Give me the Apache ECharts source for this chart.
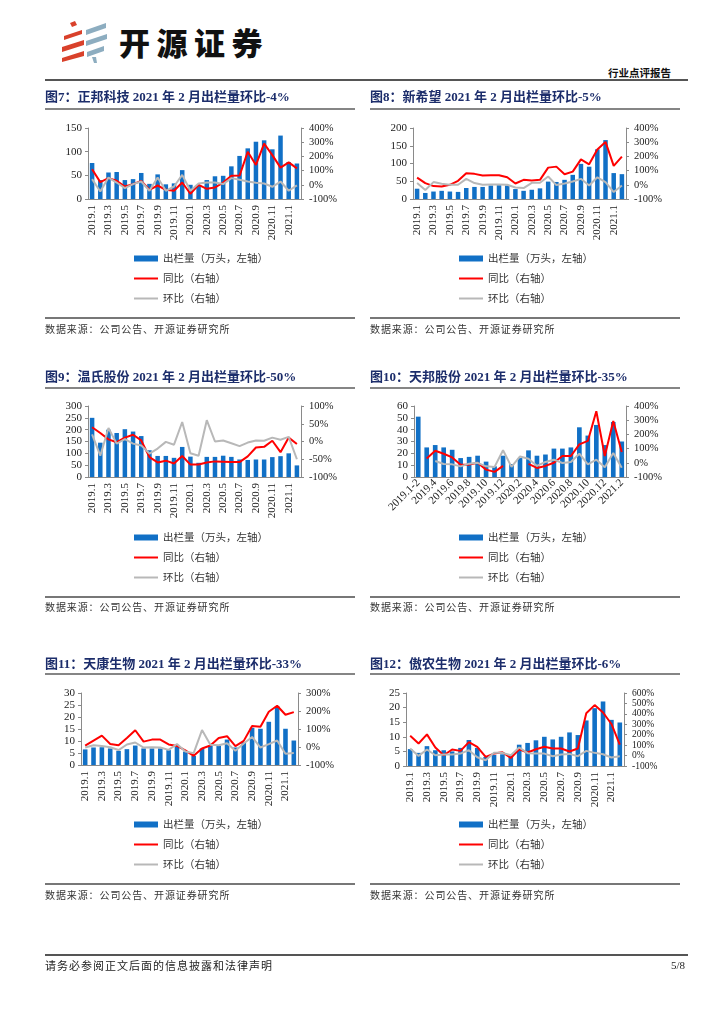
<!DOCTYPE html>
<html><head><meta charset="utf-8">
<script src="https://cdn.jsdelivr.net/npm/echarts/dist/echarts.min.js"></script>
<style>
body{margin:0;background:#fff;}
#page{position:relative;width:724px;height:1024px;overflow:hidden;background:#fff;}
#chart{position:absolute;left:0;top:0;width:724px;height:1024px;}
.t{position:absolute;white-space:nowrap;}
.title{font-family:"Liberation Serif","Noto Sans CJK SC",serif;font-weight:bold;font-size:13px;line-height:18px;color:#1C2D6B;}
.hr{position:absolute;height:0;border-top:2px solid #858585;}
.src{font-family:"Noto Sans CJK SC",sans-serif;font-size:10px;line-height:14px;letter-spacing:0.9px;color:#333;}
</style></head>
<body>
<div id="page">
  <svg class="t" style="left:0;top:0" width="120" height="70">
    <g fill="#D9412B">
      <polygon points="70,23 75,21 77,25 72,27"/>
      <polygon points="64,36 82,30 82,34 64,40"/>
      <polygon points="62,47 84,40 84,45 62,52"/>
      <polygon points="62,58 84,51 84,56 62,62"/>
    </g>
    <g fill="#8DADC0">
      <polygon points="86,30 106,23 106,28 86,35"/>
      <polygon points="86,41 107,34 107,39 86,46"/>
      <polygon points="87,52 104,46 104,51 87,57"/>
      <polygon points="92,57 96,57 97,63 94,63"/>
    </g>
  </svg>
  <div class="t" style="left:119px;top:22px;font-family:'Noto Sans CJK SC';font-weight:900;font-size:31px;line-height:40px;letter-spacing:6.5px;color:#111;">开源证券</div>
  <div class="t" style="left:608px;top:66px;font-family:'Noto Sans CJK SC';font-weight:bold;font-size:10.5px;line-height:14px;color:#111;">行业点评报告</div>
  <div class="hr" style="left:45px;top:79px;width:643px;border-top:2px solid #555;"></div>
  <div id="chart"></div>
  <div class="hr" style="left:45px;top:954px;width:643px;border-top:2px solid #555;"></div>
  <div class="t" style="left:45px;top:958px;font-family:'Noto Sans CJK SC';font-size:11px;line-height:14px;letter-spacing:1px;color:#222;">请务必参阅正文后面的信息披露和法律声明</div>
  <div class="t" style="left:671px;top:958px;font-family:'Liberation Serif';font-size:11px;line-height:14px;color:#222;">5/8</div>
</div>
<script>
// ---------- data ----------
const months = ['2019.1','2019.2','2019.3','2019.4','2019.5','2019.6','2019.7','2019.8','2019.9','2019.10','2019.11','2019.12',
  '2020.1','2020.2','2020.3','2020.4','2020.5','2020.6','2020.7','2020.8','2020.9','2020.10','2020.11','2020.12','2021.1','2021.2'];
const tbMonths = ['2019.1-2','2019.3','2019.4','2019.5','2019.6','2019.7','2019.8','2019.9','2019.10','2019.11','2019.12',
  '2020.1','2020.2','2020.3','2020.4','2020.5','2020.6','2020.7','2020.8','2020.9','2020.10','2020.11','2020.12','2021.1','2021.2'];

const titles = ['图7：正邦科技 2021 年 2 月出栏量环比-4%','图8：新希望 2021 年 2 月出栏量环比-5%',
  '图9：温氏股份 2021 年 2 月出栏量环比-50%','图10：天邦股份 2021 年 2 月出栏量环比-35%',
  '图11：天康生物 2021 年 2 月出栏量环比-33%','图12：傲农生物 2021 年 2 月出栏量环比-6%'];
const sourceText = '数据来源：公司公告、开源证券研究所';
const NAME_VOL = '出栏量（万头，左轴）', NAME_YOY = '同比（右轴）', NAME_MOM = '环比（右轴）';

// 正邦科技
const zbVol = [76,40,56,57,40,42,55,32,52,31,33,61,30,28,40,48,49,69,91,107,121,124,105,134,78,75];
const zbYoy = [109,19,47,28,-12,5,28,-35,-5,-35,-42,16,-63,0,-28,-19,16,63,65,233,140,290,209,121,158,116];
const zbMom = [40,-47,51,16,-23,5,23,-42,51,-42,-12,70,-42,9,16,16,5,47,35,23,14,9,-14,23,-42,-4];
// 新希望
const xxwVol = [29,17,21,23,21,20,31,34,34,38,39,38,28,23,26,30,49,48,54,68,99,91,140,166,73,70];
const xxwYoy = [51,12,-9,-12,0,28,81,77,65,67,67,53,9,35,30,35,121,128,74,93,179,144,249,302,133,198];
const xxwMom = [12,-37,19,7,0,0,42,12,0,2,2,0,-19,-23,14,14,58,-2,9,23,42,-5,53,19,-51,-5];
// 温氏股份
const wsVol = [250,145,200,186,202,192,173,113,89,89,81,127,86,60,85,85,90,85,74,72,74,74,84,88,100,49];
const wsYoy = [40,24,6,-2,11,19,3,-44,-59,-54,-62,-41,-65,-65,-59,-56,-57,-58,-58,-42,-17,-15,2,-30,11,-7];
const wsMom = [20,-40,38,-6,7,-6,-11,-34,-20,-1,-9,55,-33,-40,60,0,3,-5,-13,-3,3,2,11,5,13,-50];
// 天邦股份
const tbVol = [51,25,27,25,23,16,17,18,13,9,18,11,16,22.5,18,19,24,24,25,42,35,44,27,46.5,30];
const tbYoy = [null,31,85,64,38,-13,-13,0,-48,-64,-22,null,null,-8,-36,-22,0,48,48,130,154,363,48,294,76];
const tbMom = [null,null,13,-8,-11,-25,-6,0,-25,-29,88,-29,45,29,-22,6,22,-1,6,64,-11,22,-32,69,-35];
// 天康生物
const tkVol = [6.5,7.3,7.4,6.9,5.9,6.6,8.1,6.9,6.9,6.9,6.2,7.6,5.6,3.8,6.9,8,8,10.6,7.3,9.5,15.5,15.1,18,24.5,15.1,10.2];
const tkYoy = [8,36,63,17,10,50,93,30,41,41,14,6,-19,-49,-8,8,50,60,5,34,117,113,196,229,179,194];
const tkMom = [-3,10,5,-1,-17,14,25,-3,-1,-3,-16,17,-25,-34,94,12,10,21,-21,19,56,-3,16,36,-38,-33];
// 傲农生物
const anVol = [5.8,4.5,6.8,5.4,5.4,5.0,6.2,8.9,6.2,3.1,3.8,4.0,4.1,7.3,7.9,8.8,10,9.1,10,11.5,10.6,15.6,19.8,22.1,15.8,14.9];
const anYoy = [190,116,203,77,3,58,45,129,84,-13,19,32,-23,61,29,61,84,68,68,39,68,406,484,413,303,106];
const anMom = [68,-3,58,3,10,10,19,52,-16,-45,26,26,3,77,23,19,19,-6,10,16,-6,45,26,13,-19,-6];

// left axis (max, interval) and right axis (min, max, interval)
const leftAxes  = [[150,50],[200,50],[300,50],[60,10],[30,5],[25,5]];
const rightAxes = [[-100,400,100],[-100,400,100],[-100,100,50],[-100,400,100],[-100,300,100],[-100,600,100]];

// ---------- layout ----------
const charts = [
  {cats:months,   vol:zbVol,  yoy:zbYoy,  mom:zbMom,  col:0, row:0, grid:[88,128,213,71], rot:90, rfs:10.5},
  {cats:months,   vol:xxwVol, yoy:xxwYoy, mom:xxwMom, col:1, row:0, grid:[413,128,213,71], rot:90, rfs:10.5},
  {cats:months,   vol:wsVol,  yoy:wsYoy,  mom:wsMom,  col:0, row:1, grid:[88,406,213,71], rot:90, rfs:10.5},
  {cats:tbMonths, vol:tbVol,  yoy:tbYoy,  mom:tbMom,  col:1, row:1, grid:[414,406,212,71], rot:45, rfs:10.5},
  {cats:months,   vol:tkVol,  yoy:tkYoy,  mom:tkMom,  col:0, row:2, grid:[81,693,217,72], rot:90, rfs:10.5},
  {cats:months,   vol:anVol,  yoy:anYoy,  mom:anMom,  col:1, row:2, grid:[406,693,218,73], rot:90, rfs:9.5}
];
const colX = [45, 370];
const titleY = [97, 377, 664];
const ruleY = [108, 387, 673];
const legendY = [252, 531, 818];
const srcRuleY = [317, 596, 883];
const srcTextY = [322, 600, 888];

const page = document.getElementById('page');
function addDiv(cls, style, text){
  const d = document.createElement('div'); d.className = cls; d.setAttribute('style', style);
  if (text) d.textContent = text; page.appendChild(d);
}
charts.forEach((c,i)=>{
  const x0 = colX[c.col];
  addDiv('t title', `left:${x0}px;top:${titleY[c.row]-9}px;`, titles[i]);
  addDiv('hr', `left:${x0}px;top:${ruleY[c.row]}px;width:310px;`);
  addDiv('hr', `left:${x0}px;top:${srcRuleY[c.row]}px;width:310px;border-top:2px solid #777;`);
  addDiv('t src', `left:${x0}px;top:${srcTextY[c.row]}px;`, sourceText);
});

const labelFont = {fontFamily:'Liberation Serif', fontSize:11, color:'#222'};
const axisColor = '#8a8a8a';
const legendText = {fontFamily:'Noto Sans CJK SC', fontSize:10.5, lineHeight:13, color:'#333'};
const grids=[], xAxes=[], yAxes=[], series=[], legends=[];
charts.forEach((c,i)=>{
  grids.push({left:c.grid[0], top:c.grid[1], width:c.grid[2], height:c.grid[3]});
  xAxes.push({type:'category', gridIndex:i, data:c.cats,
    axisLine:{lineStyle:{color:axisColor}}, axisTick:{show:false},
    axisLabel:Object.assign({interval:1, rotate:c.rot, margin:c.rot===90?6:4}, labelFont)});
  yAxes.push({type:'value', gridIndex:i, position:'left', min:0, max:leftAxes[i][0], interval:leftAxes[i][1],
    splitLine:{show:false}, axisLine:{show:true, lineStyle:{color:axisColor}},
    axisTick:{show:true, length:3, lineStyle:{color:axisColor}},
    axisLabel:Object.assign({margin:6, showMinLabel:true, showMaxLabel:true}, labelFont)});
  yAxes.push({type:'value', gridIndex:i, position:'right', min:rightAxes[i][0], max:rightAxes[i][1], interval:rightAxes[i][2],
    splitLine:{show:false}, axisLine:{show:true, lineStyle:{color:axisColor}},
    axisTick:{show:true, length:3, lineStyle:{color:axisColor}},
    axisLabel:Object.assign({margin:8, formatter:'{value}%', showMinLabel:true, showMaxLabel:true, hideOverlap:false},
      labelFont, {fontSize:c.rfs, lineHeight:Math.floor(c.rfs)-1})});
  series.push({name:NAME_VOL, type:'bar', xAxisIndex:i, yAxisIndex:2*i, data:c.vol, barWidth:'55%',
    itemStyle:{color:'#1170C6'}, animation:false});
  series.push({name:NAME_YOY, type:'line', xAxisIndex:i, yAxisIndex:2*i+1, data:c.yoy, symbol:'none',
    lineStyle:{color:'#FF0000', width:2}, itemStyle:{color:'#FF0000'}, animation:false});
  series.push({name:NAME_MOM, type:'line', xAxisIndex:i, yAxisIndex:2*i+1, data:c.mom, symbol:'none',
    lineStyle:{color:'#B8B8B8', width:2}, itemStyle:{color:'#B8B8B8'}, animation:false});
  const lx = colX[c.col]+89;
  legends.push({orient:'vertical', left:lx, top:legendY[c.row], padding:0,
    itemWidth:24, itemHeight:6, selectedMode:false,
    data:[{name:NAME_VOL, icon:'rect'}], textStyle:legendText});
  legends.push({orient:'vertical', left:lx, top:legendY[c.row]+20, padding:0,
    itemWidth:24, itemHeight:2, itemGap:7, selectedMode:false,
    data:[{name:NAME_YOY, icon:'rect'}, {name:NAME_MOM, icon:'rect'}], textStyle:legendText});
});

const chart = echarts.init(document.getElementById('chart'), null, {renderer:'canvas'});
chart.setOption({animation:false, backgroundColor:'transparent', grid:grids, xAxis:xAxes, yAxis:yAxes, series:series, legend:legends});
</script>
</body></html>
